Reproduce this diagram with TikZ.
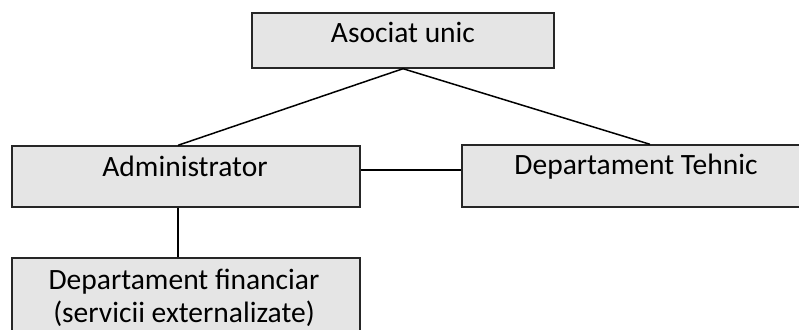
\documentclass[tikz,border=0pt]{standalone}
\usepackage{fontspec}
\setmainfont{Carlito}
\begin{document}
\begin{tikzpicture}[x=1pt,y=-1pt,
  orgbox/.style={draw=black!85, line width=1.4pt, fill=black!10, inner sep=0pt},
  lbl/.style={font=\fontsize{29.5}{33}\selectfont, inner sep=0pt, anchor=base, text=black},
  link/.style={draw=black, line width=1.5pt}]
\useasboundingbox (0,0) rectangle (799,329);
\begin{scope}
\clip (0,0) rectangle (799,329);
\node[orgbox, minimum width=302pt, minimum height=55pt] (asoc) at (403,40.5) {};
\node[orgbox, minimum width=348pt, minimum height=61pt] (admin) at (186,176.5) {};
\node[orgbox, minimum width=360pt, minimum height=62pt] (tehnic) at (642,176) {};
\node[orgbox, minimum width=348pt, minimum height=90pt] (fin) at (186,303) {};
\end{scope}
\node[lbl] (tasoc) at (403,43) {Asociat unic};
\node[lbl] (tadmin) at (185,176) {Administrator};
\node[lbl] (ttehnic) at (636,174) {Departament Tehnic};
\node[lbl, align=center] (tfin) at (184,322) {Departament financiar\\(servicii externalizate)};
\coordinate (a1) at (asoc.south);
\coordinate (ad1) at ([xshift=-8pt]admin.north);
\coordinate (te1) at ([xshift=8pt]tehnic.north);
\coordinate (ad2) at (admin.east |- 0,170);
\coordinate (te2) at (tehnic.west |- 0,170);
\coordinate (ad3) at ([xshift=-8pt]admin.south);
\coordinate (fi1) at ([xshift=-8pt]fin.north);
\draw[link] (a1) -- (ad1);
\draw[link] (a1) -- (te1);
\draw[link] (ad2) -- (te2);
\draw[link] (ad3) -- (fi1);
\end{tikzpicture}
\end{document}
